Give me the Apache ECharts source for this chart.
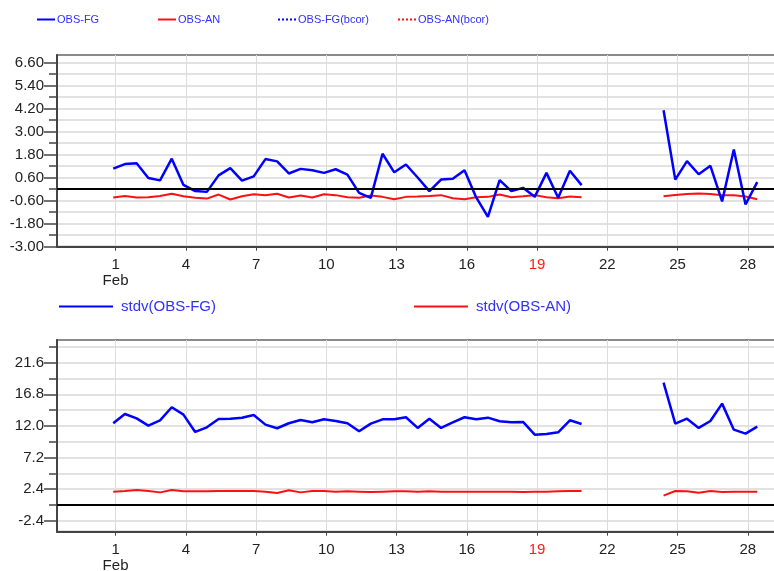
<!DOCTYPE html>
<html>
<head>
<meta charset="utf-8">
<script src="https://cdn.jsdelivr.net/npm/echarts@6/dist/echarts.min.js"></script>
<style>
  html, body { margin: 0; padding: 0; background: #fff; }
  #chart { width: 774px; height: 571px; }
</style>
</head>
<body>
<div id="chart"></div>
<script>
// Analysis times, in days of February (12-hourly cycles)
const times = [
  0.9, 1.4, 1.9, 2.4, 2.9, 3.4, 3.9, 4.4, 4.9, 5.4,
  5.9, 6.4, 6.9, 7.4, 7.9, 8.4, 8.9, 9.4, 9.9, 10.4,
  10.9, 11.4, 11.9, 12.4, 12.9, 13.4, 13.9, 14.4, 14.9, 15.4,
  15.9, 16.4, 16.9, 17.4, 17.9, 18.4, 18.9, 19.4, 19.9, 20.4,
  20.9, 21.4, 21.9, 22.4, 22.9, 23.4, 23.9, 24.4, 24.9, 25.4,
  25.9, 26.4, 26.9, 27.4, 27.9, 28.4
];

// Mean departures (null = no data)
const obsFg = [
  1.07, 1.31, 1.35, 0.58, 0.46, 1.59, 0.22, -0.10, -0.14, 0.72,
  1.10, 0.45, 0.67, 1.57, 1.45, 0.82, 1.06, 0.99, 0.85, 1.04,
  0.76, -0.19, -0.45, 1.85, 0.88, 1.29, 0.61, -0.10, 0.50, 0.54,
  0.99, -0.43, -1.44, 0.47, -0.10, 0.07, -0.40, 0.85, -0.45, 0.96,
  0.21, null, null, null, null, null, null, 4.12, 0.50, 1.46,
  0.78, 1.22, -0.64, 2.07, -0.80, 0.37
];
const obsAn = [
  -0.43, -0.35, -0.43, -0.42, -0.35, -0.24, -0.37, -0.45, -0.49, -0.28,
  -0.54, -0.37, -0.26, -0.31, -0.24, -0.43, -0.33, -0.43, -0.26, -0.31,
  -0.42, -0.45, -0.33, -0.40, -0.52, -0.40, -0.38, -0.35, -0.31, -0.47,
  -0.52, -0.42, -0.40, -0.28, -0.42, -0.37, -0.31, -0.42, -0.47, -0.38,
  -0.42, null, null, null, null, null, null, -0.37, -0.30, -0.25,
  -0.23, -0.25, -0.31, -0.31, -0.38, -0.52
];

// Standard deviations of departures
const stdvFg = [
  12.41, 13.82, 13.16, 12.05, 12.86, 14.84, 13.72, 11.09, 11.80, 13.06,
  13.11, 13.26, 13.67, 12.20, 11.65, 12.41, 12.91, 12.56, 13.01, 12.76,
  12.41, 11.19, 12.35, 13.01, 13.01, 13.32, 11.70, 13.11, 11.70, 12.56,
  13.32, 13.01, 13.26, 12.71, 12.56, 12.61, 10.68, 10.79, 11.04, 12.86,
  12.30, null, null, null, null, null, null, 18.58, 12.35, 13.11,
  11.70, 12.76, 15.39, 11.44, 10.83, 11.90
];
const stdvAn = [
  2.03, 2.13, 2.28, 2.13, 1.92, 2.28, 2.08, 2.08, 2.08, 2.13,
  2.13, 2.13, 2.13, 2.03, 1.82, 2.23, 1.92, 2.13, 2.13, 2.03,
  2.08, 2.03, 1.97, 2.03, 2.08, 2.08, 2.03, 2.08, 2.03, 2.03,
  2.03, 2.03, 2.03, 2.03, 2.03, 1.97, 2.03, 2.03, 2.08, 2.13,
  2.13, null, null, null, null, null, null, 1.42, 2.13, 2.08,
  1.87, 2.13, 1.97, 2.03, 2.03, 2.03
];

// Axis ticks and labels
const dayTicks = [1, 4, 7, 10, 13, 16, 19, 22, 25, 28];
const sundayDays = [19];
const meanTicks = [-3.0, -2.4, -1.8, -1.2, -0.6, 0, 0.6, 1.2, 1.8, 2.4, 3.0, 3.6, 4.2, 4.8, 5.4, 6.0, 6.6];
const meanLabels = [-3.0, -1.8, -0.6, 0.6, 1.8, 3.0, 4.2, 5.4, 6.6];
const stdvTicks = [-2.4, 0, 2.4, 4.8, 7.2, 9.6, 12.0, 14.4, 16.8, 19.2, 21.6, 24.0];
const stdvLabels = [-2.4, 2.4, 7.2, 12.0, 16.8, 21.6];

const BLUE = '#0000ff';
const RED = '#ff1010';
const LEGEND_TEXT = '#3030ff';
const AXIS = '#444';
const FONT = 'Liberation Sans';

const pairs = (vals) => times.map((t, i) => [t, vals[i]]);

function xAxisFor(gridIndex) {
  return {
    type: 'value', gridIndex: gridIndex, min: -1.5, max: 29.5,
    axisLine: { show: true, onZero: false, lineStyle: { color: AXIS, width: 2 } },
    axisTick: { show: true, customValues: dayTicks, length: 4, lineStyle: { color: AXIS, width: 1 } },
    splitLine: { show: true, lineStyle: { color: '#dcdcdc', width: 1 } },
    axisLabel: {
      customValues: dayTicks, margin: 10,
      fontFamily: FONT, fontSize: 15, color: '#222', lineHeight: 16,
      formatter: (v) => {
        if (v === 1) return '1\nFeb';
        if (sundayDays.indexOf(v) >= 0) return '{sun|' + v + '}';
        return String(v);
      },
      rich: { sun: { color: '#ff1a1a', fontFamily: FONT, fontSize: 15 } }
    }
  };
}

// Value axis with short ticks at every grid step and the labels
function yAxisFor(gridIndex, min, max, ticks, labels, digits) {
  return {
    type: 'value', gridIndex: gridIndex, min: min, max: max, position: 'left',
    axisLine: { show: true, onZero: false, lineStyle: { color: AXIS, width: 2 } },
    axisTick: { show: true, customValues: ticks, length: 8, lineStyle: { color: AXIS, width: 1.5 } },
    splitLine: { show: true, lineStyle: { color: '#d9d9d9', width: 1.5 } },
    axisLabel: {
      customValues: labels, margin: 13,
      fontFamily: FONT, fontSize: 15, color: '#222',
      formatter: (v) => v.toFixed(digits)
    }
  };
}

// Overlay axis carrying the longer ticks at labelled values
function majorTickAxis(gridIndex, min, max, labels) {
  return {
    type: 'value', gridIndex: gridIndex, min: min, max: max, position: 'left', offset: 0,
    axisLine: { show: false, onZero: false },
    axisTick: { show: true, customValues: labels, length: 13, lineStyle: { color: AXIS, width: 1.5 } },
    splitLine: { show: false },
    axisLabel: { show: false }
  };
}

const zeroLine = {
  silent: true, symbol: 'none', label: { show: false },
  lineStyle: { color: '#000', width: 2, type: 'solid' },
  emphasis: { disabled: true },
  data: [{ yAxis: 0 }]
};

function lineSeries(name, data, color, width, xi, extra) {
  return Object.assign({
    name: name, type: 'line', xAxisIndex: xi, yAxisIndex: xi,
    data: data, showSymbol: false, symbol: 'none', connectNulls: false,
    lineStyle: { color: color, width: width }, itemStyle: { color: color },
    animation: false, z: 3
  }, extra || {});
}

const smallLegend = (name, left) => ({
  data: [name], left: left, top: 14, padding: 0, itemWidth: 18, itemHeight: 12, itemGap: 0,
  itemStyle: { opacity: 0 },
  textStyle: { color: LEGEND_TEXT, fontFamily: FONT, fontSize: 11, padding: [0, 0, 0, -3] },
  selectedMode: false
});
const bigLegend = (name, left) => ({
  data: [name], left: left, top: 299, padding: 0, itemWidth: 54, itemHeight: 14, itemGap: 0,
  itemStyle: { opacity: 0 },
  textStyle: { color: LEGEND_TEXT, fontFamily: FONT, fontSize: 15, padding: [0, 0, 0, 3] },
  selectedMode: false
});

const gridBase = {
  left: 57, width: 726, height: 191.7, show: true,
  outerBoundsMode: 'none', containLabel: false,
  borderColor: '#8a8a8a', borderWidth: 2, backgroundColor: 'transparent'
};

const chart = echarts.init(document.getElementById('chart'), null, { renderer: 'canvas' });
chart.setOption({
  animation: false,
  backgroundColor: '#fff',
  legend: [
    smallLegend('OBS-FG', 36),
    smallLegend('OBS-AN', 157),
    smallLegend('OBS-FG(bcor)', 277),
    smallLegend('OBS-AN(bcor)', 397),
    bigLegend('stdv(OBS-FG)', 58),
    bigLegend('stdv(OBS-AN)', 413)
  ],
  grid: [
    Object.assign({ top: 55 }, gridBase),
    Object.assign({ top: 340 }, gridBase)
  ],
  xAxis: [xAxisFor(0), xAxisFor(1)],
  yAxis: [
    yAxisFor(0, -3.0, 7.0, meanTicks, meanLabels, 2),
    yAxisFor(1, -4.05, 25.05, stdvTicks, stdvLabels, 1),
    majorTickAxis(0, -3.0, 7.0, meanLabels),
    majorTickAxis(1, -4.05, 25.05, stdvLabels)
  ],
  series: [
    lineSeries('OBS-FG', pairs(obsFg), BLUE, 2.5, 0, { markLine: zeroLine, z: 4 }),
    lineSeries('OBS-AN', pairs(obsAn), RED, 2, 0),
    lineSeries('OBS-FG(bcor)', [], BLUE, 2, 0, { lineStyle: { color: BLUE, width: 2, type: 'dotted' } }),
    lineSeries('OBS-AN(bcor)', [], RED, 2, 0, { lineStyle: { color: RED, width: 2, type: 'dotted' } }),
    lineSeries('stdv(OBS-FG)', pairs(stdvFg), BLUE, 2.5, 1, { markLine: zeroLine, z: 4 }),
    lineSeries('stdv(OBS-AN)', pairs(stdvAn), RED, 2, 1)
  ]
});
</script>
</body>
</html>
